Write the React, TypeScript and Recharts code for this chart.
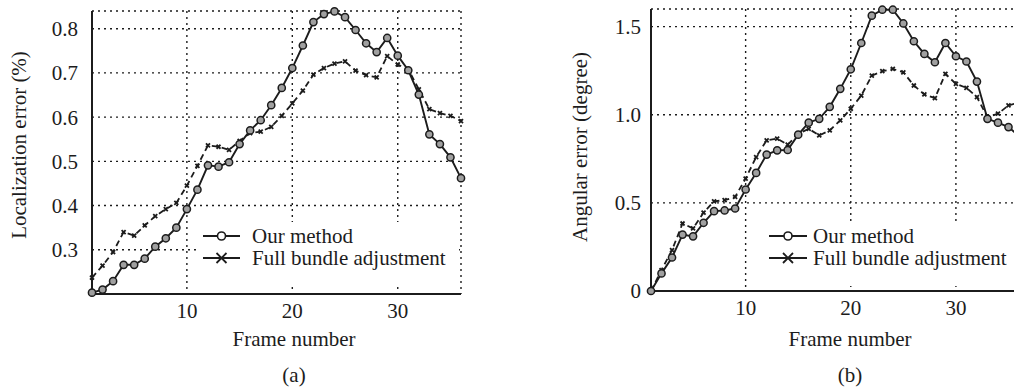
import { CartesianGrid, Legend, Line, LineChart, XAxis, YAxis } from 'recharts';

const FRAMES = [
  1, 2, 3, 4, 5, 6, 7, 8, 9, 10, 11, 12, 13, 14, 15, 16, 17, 18,
  19, 20, 21, 22, 23, 24, 25, 26, 27, 28, 29, 30, 31, 32, 33, 34, 35, 36
];

// (a) localization error
const OUR_LOC = [
  0.203, 0.21, 0.229, 0.266, 0.266, 0.28, 0.307, 0.326, 0.35, 0.392, 0.436, 0.491,
  0.488, 0.498, 0.539, 0.57, 0.593, 0.627, 0.666, 0.711, 0.762, 0.815, 0.833, 0.839,
  0.826, 0.797, 0.767, 0.747, 0.779, 0.739, 0.706, 0.651, 0.561, 0.539, 0.509, 0.462
];
const FULL_LOC = [
  0.237, 0.264, 0.295, 0.34, 0.332, 0.355, 0.376, 0.392, 0.406, 0.445, 0.49, 0.536,
  0.533, 0.526, 0.546, 0.564, 0.567, 0.578, 0.603, 0.631, 0.66, 0.696, 0.711, 0.721,
  0.726, 0.705, 0.695, 0.69, 0.738, 0.719, 0.708, 0.663, 0.618, 0.609, 0.603, 0.591
];

// (b) angular error
const OUR_ANG = [
  0, 0.1, 0.19, 0.32, 0.31, 0.387, 0.453, 0.457, 0.468, 0.576, 0.67, 0.774,
  0.798, 0.8, 0.887, 0.955, 0.977, 1.045, 1.147, 1.258, 1.407, 1.562, 1.596, 1.596,
  1.518, 1.417, 1.345, 1.298, 1.407, 1.332, 1.302, 1.188, 0.977, 0.955, 0.93, 0.88
];
const FULL_ANG = [
  0, 0.119, 0.232, 0.383, 0.355, 0.445, 0.509, 0.515, 0.534, 0.638, 0.76, 0.855,
  0.864, 0.83, 0.892, 0.92, 0.883, 0.911, 0.968, 1.034, 1.109, 1.222, 1.247, 1.26,
  1.241, 1.166, 1.115, 1.094, 1.232, 1.175, 1.153, 1.1, 0.986, 1.006, 1.053, 1.07
];

const X_TICKS = [10, 20, 30];
const LOC_TICKS = [0.3, 0.4, 0.5, 0.6, 0.7, 0.8];
const ANG_TICKS = [0, 0.5, 1.0, 1.5];

const SERIES_NAMES = ['Our method', 'Full bundle adjustment'];

const FONT = '"Liberation Serif", "Times New Roman", serif';
const FS = 21;
const INK = '#1c1c1c';

const locData = FRAMES.map((frame, i) => ({ frame, our: OUR_LOC[i], full: FULL_LOC[i] }));
const angData = FRAMES.map((frame, i) => ({ frame, our: OUR_ANG[i], full: FULL_ANG[i] }));

function CrossDot(props: any) {
  const { cx, cy } = props;
  if (cx == null || cy == null) return null;
  const s = 2;
  return (
    <path
      d={`M${cx - s},${cy - s}L${cx + s},${cy + s}M${cx - s},${cy + s}L${cx + s},${cy - s}`}
      stroke={INK}
      strokeWidth={1.8}
      fill="none"
    />
  );
}

function legendContent(lineX0: number, lineX1: number, textX: number, w: number) {
  const mid = (lineX0 + lineX1) / 2;
  return () => (
    <svg width={w} height={64} style={{ display: 'block' }}>
      <rect x={0} y={0} width={w} height={64} fill="#fff" />
      <line x1={lineX0} x2={lineX1} y1={14} y2={14} stroke={INK} strokeWidth={1.8} />
      <circle cx={mid} cy={14} r={4} fill="#fff" stroke={INK} strokeWidth={1.6} />
      <line x1={lineX0} x2={lineX1} y1={36} y2={36} stroke={INK} strokeWidth={1.8} />
      <path d={`M${mid - 5},${31}L${mid + 5},${41}M${mid - 5},${41}L${mid + 5},${31}`} stroke={INK} strokeWidth={1.8} />
      <text x={textX} y={14} dominantBaseline="central" fontSize={FS} fontFamily={FONT} fill={INK}>
        {SERIES_NAMES[0]}
      </text>
      <text x={textX} y={36} dominantBaseline="central" fontSize={FS} fontFamily={FONT} fill={INK}>
        {SERIES_NAMES[1]}
      </text>
    </svg>
  );
}

type PanelProps = {
  data: Array<{ frame: number; our: number; full: number }>;
  domain: [number, number];
  yTicks: number[];
  fmt: (v: number) => string;
  margin: { top: number; right: number; bottom: number; left: number };
  tickGap: number;
  legend: { left: number; top: number; width: number; line0: number; line1: number; text: number };
};

function Panel({ data, domain, yTicks, fmt, margin, tickGap, legend }: PanelProps) {
  const tickStyle = { fontSize: FS, fontFamily: FONT, fill: INK };
  return (
    <LineChart width={480} height={330} data={data} margin={margin}>
      <CartesianGrid stroke={INK} strokeDasharray="2 4" strokeWidth={1.4} />
      <XAxis
        dataKey="frame"
        type="number"
        domain={[1, 36]}
        ticks={X_TICKS}
        height={30}
        tickLine={false}
        tickSize={0}
        tickMargin={9}
        tick={tickStyle}
        axisLine={{ stroke: INK, strokeWidth: 2 }}
      />
      <XAxis xAxisId="top" orientation="top" dataKey="frame" type="number" domain={[1, 36]} height={0} tick={false} tickLine={false} axisLine={{ stroke: INK, strokeWidth: 2 }} />
      <YAxis
        type="number"
        domain={domain}
        ticks={yTicks}
        width={60}
        tickLine={false}
        tickSize={0}
        tickMargin={tickGap}
        tickFormatter={fmt}
        tick={tickStyle}
        axisLine={{ stroke: INK, strokeWidth: 2 }}
      />
      <YAxis yAxisId="right" orientation="right" type="number" domain={domain} width={0} tick={false} tickLine={false} axisLine={{ stroke: INK, strokeWidth: 2 }} />
      <Legend
        layout="vertical"
        align="center"
        verticalAlign="middle"
        content={legendContent(legend.line0, legend.line1, legend.text, legend.width)}
        wrapperStyle={{ left: legend.left, top: legend.top, width: legend.width, height: 64 }}
      />
      <Line
        dataKey="full"
        name={SERIES_NAMES[1]}
        stroke={INK}
        strokeWidth={1.8}
        strokeDasharray="6 4"
        dot={<CrossDot />}
        isAnimationActive={false}
      />
      <Line
        dataKey="our"
        name={SERIES_NAMES[0]}
        stroke={INK}
        strokeWidth={1.9}
        dot={{ r: 3.6, fill: '#a0a0a0', stroke: INK, strokeWidth: 1.5 }}
        isAnimationActive={false}
      />
    </LineChart>
  );
}

const textStyle = { position: 'absolute' as const, fontSize: FS, fontFamily: FONT, color: INK, whiteSpace: 'nowrap' as const, lineHeight: 1 };

export default function App() {
  return (
    <div style={{ position: 'fixed', left: 0, top: 0, width: 1014, height: 388, overflow: 'hidden', background: '#fff' }}>
      <div style={{ position: 'absolute', left: 0, top: 0 }}>
        <Panel
          data={locData}
          domain={[0.2, 0.84]}
          yTicks={LOC_TICKS}
          fmt={(v) => v.toFixed(1)}
          margin={{ top: 11, right: 19, bottom: 6, left: 32 }}
          tickGap={14}
          legend={{ left: 197, top: 222, width: 262, line0: 6, line1: 43, text: 55 }}
        />
      </div>
      <div style={{ position: 'absolute', left: 559, top: 0 }}>
        <Panel
          data={angData}
          domain={[0, 1.6]}
          yTicks={ANG_TICKS}
          fmt={(v) => (v === 0 ? '0' : v.toFixed(1))}
          margin={{ top: 9, right: 20, bottom: 9, left: 32 }}
          tickGap={10}
          legend={{ left: 204, top: 222, width: 256, line0: 6, line1: 44, text: 50 }}
        />
      </div>
      <div style={{ ...textStyle, left: 19, top: 145, transform: 'translate(-50%, -50%) rotate(-90deg)' }}>
        Localization error (%)
      </div>
      <div style={{ ...textStyle, left: 580, top: 147, transform: 'translate(-50%, -50%) rotate(-90deg)' }}>
        Angular error (degree)
      </div>
      <div style={{ ...textStyle, left: 294, top: 339, transform: 'translate(-50%, -50%)' }}>Frame number</div>
      <div style={{ ...textStyle, left: 294, top: 375, transform: 'translate(-50%, -50%)' }}>(a)</div>
      <div style={{ ...textStyle, left: 850, top: 339, transform: 'translate(-50%, -50%)' }}>Frame number</div>
      <div style={{ ...textStyle, left: 850, top: 375, transform: 'translate(-50%, -50%)' }}>(b)</div>
    </div>
  );
}
